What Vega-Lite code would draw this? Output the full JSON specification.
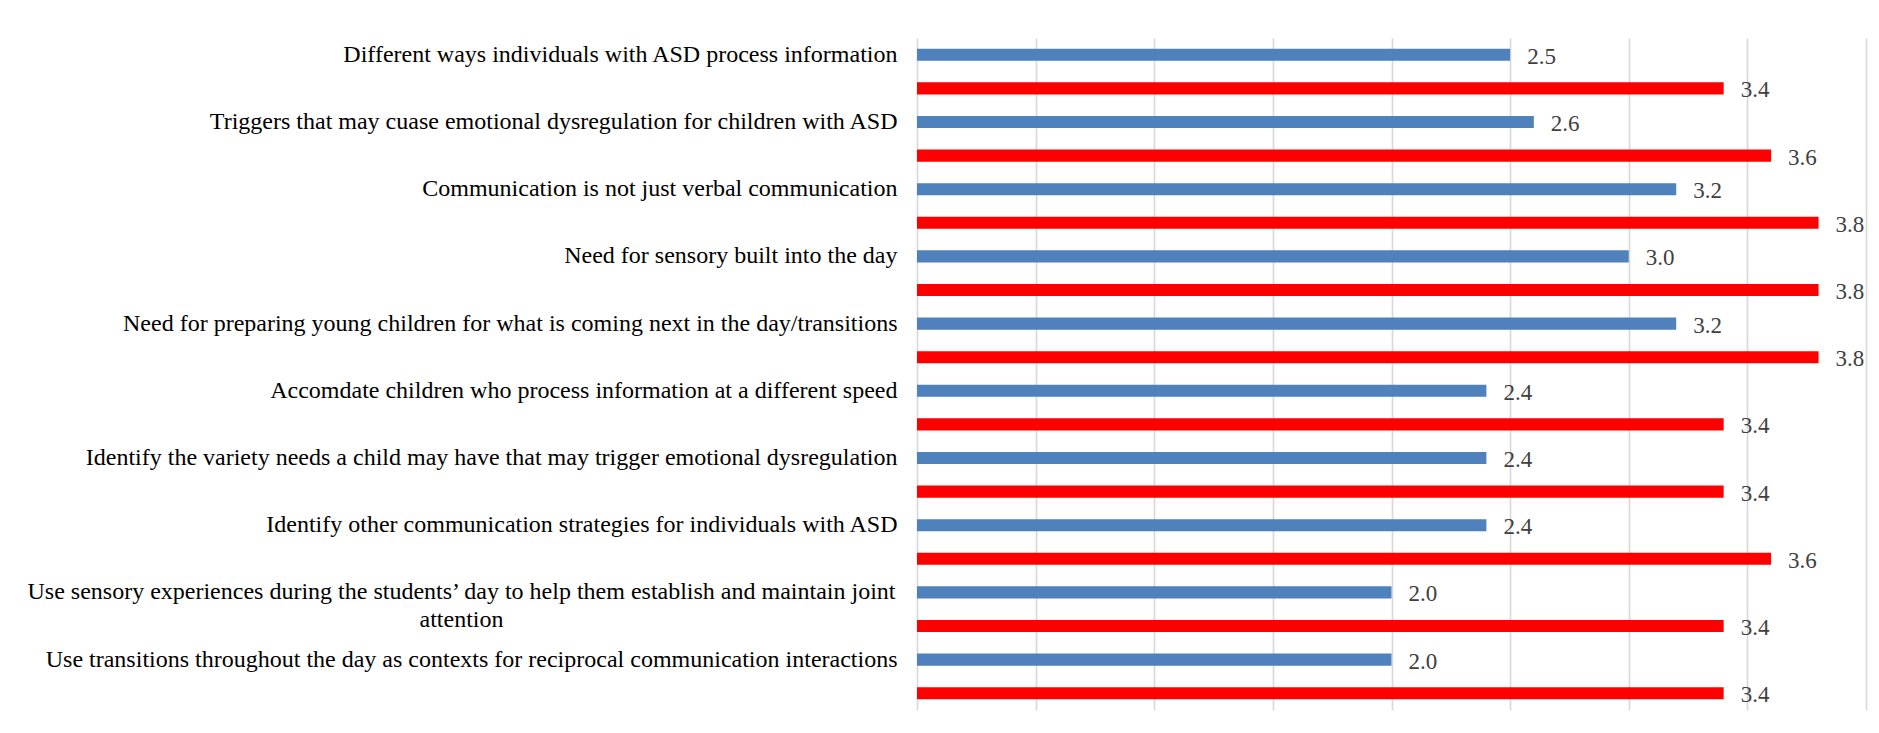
{
  "$schema": "https://vega.github.io/schema/vega-lite/v6.json",
  "width": 949,
  "height": 672,
  "autosize": {"type": "none"},
  "padding": {"left": 917, "top": 38, "right": 13, "bottom": 23},
  "background": "white",
  "config": {"view": {"stroke": null}},
  "data": {
    "values": [
      {"item": "Different ways individuals with ASD process information", "group": "Pre", "value": 2.5},
      {"item": "Different ways individuals with ASD process information", "group": "Post", "value": 3.4},
      {"item": "Triggers that may cuase emotional dysregulation for children with ASD", "group": "Pre", "value": 2.6},
      {"item": "Triggers that may cuase emotional dysregulation for children with ASD", "group": "Post", "value": 3.6},
      {"item": "Communication is not just verbal communication", "group": "Pre", "value": 3.2},
      {"item": "Communication is not just verbal communication", "group": "Post", "value": 3.8},
      {"item": "Need for sensory built into the day", "group": "Pre", "value": 3.0},
      {"item": "Need for sensory built into the day", "group": "Post", "value": 3.8},
      {"item": "Need for preparing young children for what is coming next in the day/transitions", "group": "Pre", "value": 3.2},
      {"item": "Need for preparing young children for what is coming next in the day/transitions", "group": "Post", "value": 3.8},
      {"item": "Accomdate children who process information at a different speed", "group": "Pre", "value": 2.4},
      {"item": "Accomdate children who process information at a different speed", "group": "Post", "value": 3.4},
      {"item": "Identify the variety needs a child may have that may trigger emotional dysregulation", "group": "Pre", "value": 2.4},
      {"item": "Identify the variety needs a child may have that may trigger emotional dysregulation", "group": "Post", "value": 3.4},
      {"item": "Identify other communication strategies for individuals with ASD", "group": "Pre", "value": 2.4},
      {"item": "Identify other communication strategies for individuals with ASD", "group": "Post", "value": 3.6},
      {"item": "Use sensory experiences during the students’ day to help them establish and maintain joint attention", "group": "Pre", "value": 2.0},
      {"item": "Use sensory experiences during the students’ day to help them establish and maintain joint attention", "group": "Post", "value": 3.4},
      {"item": "Use transitions throughout the day as contexts for reciprocal communication interactions", "group": "Pre", "value": 2.0},
      {"item": "Use transitions throughout the day as contexts for reciprocal communication interactions", "group": "Post", "value": 3.4}
    ]
  },
  "encoding": {
    "y": {
      "field": "item",
      "type": "nominal",
      "sort": null,
      "scale": {"paddingInner": 0, "paddingOuter": 0},
      "axis": {
        "title": null,
        "domain": false,
        "ticks": false,
        "labelFont": "Liberation Serif",
        "labelFontSize": 24,
        "labelColor": "#000000",
        "labelLimit": 0,
        "labelOffset": -16.8,
        "labelLineHeight": 27.6,
        "labelAlign": {"condition": {"test": "indexof(datum.value, 'joint') >= 0", "value": "center"}, "value": "right"},
        "labelPadding": {"condition": {"test": "indexof(datum.value, 'joint') >= 0", "value": 456}, "value": 20},
        "labelExpr": "indexof(datum.value, 'joint') >= 0 ? ['Use sensory experiences during the students’ day to help them establish and maintain joint', 'attention'] : datum.label"
      }
    },
    "yOffset": {
      "field": "group",
      "type": "nominal",
      "sort": ["Pre", "Post"],
      "scale": {"paddingInner": 0.64, "paddingOuter": 0.32}
    },
    "x": {
      "field": "value",
      "type": "quantitative",
      "scale": {"domain": [0, 4], "nice": false},
      "axis": {
        "title": null,
        "labels": false,
        "ticks": false,
        "domain": false,
        "grid": true,
        "gridColor": "#D9D9D9",
        "gridWidth": 1.7,
        "values": [0, 0.5, 1, 1.5, 2, 2.5, 3, 3.5, 4]
      }
    }
  },
  "layer": [
    {
      "mark": {"type": "bar"},
      "encoding": {
        "color": {
          "field": "group",
          "type": "nominal",
          "scale": {"domain": ["Pre", "Post"], "range": ["#4F81BD", "#FF0000"]},
          "legend": null
        }
      }
    },
    {
      "mark": {"type": "text", "align": "left", "baseline": "middle", "dx": 17, "dy": 2, "font": "Liberation Serif", "fontSize": 23, "color": "#404040"},
      "encoding": {
        "text": {"field": "value", "type": "quantitative", "format": ".1f"}
      }
    }
  ]
}
